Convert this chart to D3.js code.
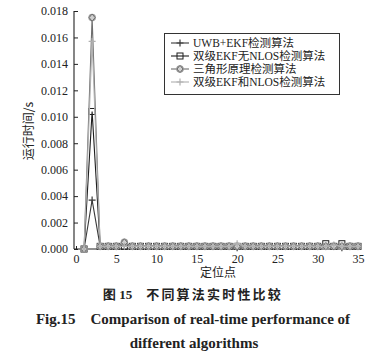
<!DOCTYPE html>
<html><head><meta charset="utf-8">
<script src="https://cdn.jsdelivr.net/npm/d3@7"></script>
<style>html,body{margin:0;padding:0;background:#fff;}svg{display:block;}</style>
</head><body>
<script>
const xPoints = d3.range(1, 36);
const seriesNames = ["UWB+EKF检测算法", "双级EKF无NLOS检测算法", "三角形原理检测算法", "双级EKF和NLOS检测算法"];
const s1 = [0, 0.0037, 0.0002, 0.0002, 0.0002, 0.0002, 0.0002, 0.0002, 0.0002, 0.0002, 0.0002, 0.0002, 0.0002, 0.0002, 0.0002, 0.0002, 0.0002, 0.0002, 0.0002, 0.0001, 0.0002, 0.0002, 0.0002, 0.0002, 0.0002, 0.0002, 0.0002, 0.0002, 0.0002, 0.0002, 0.0002, 0.0002, 0.0001, 0.0002, 0.0002];
const s2 = [0, 0.0104, 0.0002, 0.0002, 0.0002, 0.0002, 0.0002, 0.0002, 0.0002, 0.0002, 0.0002, 0.0002, 0.0002, 0.0002, 0.0002, 0.0002, 0.0002, 0.0002, 0.0002, 0.0002, 0.0002, 0.0002, 0.0002, 0.0002, 0.0002, 0.0002, 0.0002, 0.0002, 0.0002, 0.0002, 0.0004, 0.0002, 0.0004, 0.0002, 0.0002];
const s3 = [0, 0.0175, 0.0002, 0.0002, 0.0002, 0.0005, 0.0002, 0.0002, 0.0002, 0.0002, 0.0002, 0.0002, 0.0002, 0.0002, 0.0002, 0.0002, 0.0002, 0.0002, 0.0002, 0.0002, 0.0002, 0.0002, 0.0002, 0.0002, 0.0002, 0.0002, 0.0002, 0.0002, 0.0002, 0.0002, 0.0002, 0.0002, 0.0002, 0.0002, 0.0002];
const s4 = [0, 0.0157, 0.0002, 0.0002, 0.0002, 0.0002, 0.0002, 0.0002, 0.0002, 0.0002, 0.0002, 0.0002, 0.0002, 0.0002, 0.0002, 0.0002, 0.0002, 0.0002, 0.0002, 0.0004, 0.0002, 0.0002, 0.0002, 0.0002, 0.0002, 0.0002, 0.0002, 0.0002, 0.0002, 0.0002, 0.0002, 0.0003, 0.0002, 0.0002, 0.0002];
const xTicks = [0, 5, 10, 15, 20, 25, 30, 35];
const yTicks = [0, 0.002, 0.004, 0.006, 0.008, 0.010, 0.012, 0.014, 0.016, 0.018];

const W = 386, H = 357;
const svg = d3.select("body").append("svg").attr("width", W).attr("height", H);
svg.append("rect").attr("width", W).attr("height", H).attr("fill", "#fff");

const x = d3.scaleLinear().domain([0, 35]).range([76, 358]);
const y = d3.scaleLinear().domain([0, 0.018]).range([249, 11]);
const serif = "'Liberation Serif','Times New Roman',serif";
const cjk = "'Noto Sans CJK SC',sans-serif";

// axes
const axL = 74, axB = 249;
svg.append("line").attr("x1", axL).attr("x2", axL).attr("y1", y(0.018)).attr("y2", axB).attr("stroke", "#222").attr("stroke-width", 1.1);
svg.append("line").attr("x1", axL).attr("x2", 360).attr("y1", axB).attr("y2", axB).attr("stroke", "#222").attr("stroke-width", 1.1);

const gy = svg.append("g").attr("transform", `translate(${axL},0)`)
  .call(d3.axisRight(y).tickValues(yTicks).tickSize(4).tickFormat(d3.format(".3f")));
gy.select(".domain").remove();
gy.selectAll("line").attr("stroke", "#222");
gy.selectAll("text").attr("x", -6).attr("text-anchor", "end").attr("font-family", serif).attr("font-size", 12).attr("fill", "#222");

const gx = svg.append("g").attr("transform", `translate(0,${axB})`)
  .call(d3.axisTop(x).tickValues(xTicks).tickSize(3).tickFormat(d3.format("d")));
gx.select(".domain").remove();
gx.selectAll("line").attr("stroke", "#222");
gx.selectAll("text").attr("y", 14).attr("dy", 0).attr("font-family", serif).attr("font-size", 12).attr("fill", "#222");

// axis titles
svg.append("text").attr("transform", "translate(33,131) rotate(-90)").attr("text-anchor", "middle")
  .attr("font-family", cjk).attr("font-size", 12).attr("fill", "#222").text("运行时间/s");
svg.append("text").attr("x", 218).attr("y", 277).attr("text-anchor", "middle")
  .attr("font-family", cjk).attr("font-size", 12).attr("fill", "#222").text("定位点");

// series
const series = [
  {name: seriesNames[0], vals: s1, color: "#3a3a3a", marker: "plus"},
  {name: seriesNames[1], vals: s2, color: "#1e1e1e", marker: "square"},
  {name: seriesNames[2], vals: s3, color: "#6e6e6e", marker: "diamond"},
  {name: seriesNames[3], vals: s4, color: "#b0b0b0", marker: "plus"}
];
const line = d3.line().x((d, i) => x(xPoints[i])).y(d => y(d));

function drawMarker(g, type, cx, cy, color) {
  if (type === "plus") {
    g.append("path").attr("d", `M${cx-3.5},${cy}H${cx+3.5}M${cx},${cy-3.5}V${cy+3.5}`)
      .attr("stroke", color).attr("stroke-width", 1.2).attr("fill", "none");
  } else if (type === "square") {
    g.append("rect").attr("x", cx-3).attr("y", cy-3).attr("width", 6).attr("height", 6)
      .attr("fill", "none").attr("stroke", color).attr("stroke-width", 1);
  } else {
    g.append("circle").attr("cx", cx).attr("cy", cy).attr("r", 3.8).attr("fill", "#9a9a9a").attr("stroke", "none");
    g.append("path").attr("d", `M${cx},${cy-3.6}L${cx+3},${cy}L${cx},${cy+3.6}L${cx-3},${cy}Z`)
      .attr("fill", "#cfcfcf").attr("stroke", color).attr("stroke-width", 1);
  }
}

series.forEach(s => {
  const g = svg.append("g");
  g.append("path").datum(s.vals).attr("d", line).attr("fill", "none").attr("stroke", s.color).attr("stroke-width", 1.1);
  s.vals.forEach((v, i) => drawMarker(g, s.marker, x(xPoints[i]), y(v), s.color));
});

// legend
const lg = svg.append("g");
lg.append("rect").attr("x", 164.5).attr("y", 33.5).attr("width", 175).attr("height", 61)
  .attr("fill", "#fff").attr("stroke", "#333").attr("stroke-width", 1);
series.forEach((s, i) => {
  const ly = 43 + i * 13;
  lg.append("line").attr("x1", 171).attr("x2", 189).attr("y1", ly).attr("y2", ly).attr("stroke", s.color).attr("stroke-width", 1.1);
  drawMarker(lg, s.marker, 180, ly, s.color);
  lg.append("text").attr("x", 193).attr("y", ly + 4).attr("font-family", serif + "," + cjk).attr("font-size", 11.5)
    .attr("fill", "#222").text(s.name);
});

// caption
svg.append("text").attr("x", 193).attr("y", 299).attr("text-anchor", "middle")
  .attr("font-family", cjk).attr("font-weight", "bold").attr("font-size", 13).attr("fill", "#222")
  .html("<tspan font-family=\"'Liberation Serif',serif\">图 15</tspan><tspan dx='14' letter-spacing='2.2'>不同算法实时性比较</tspan>");
svg.append("text").attr("x", 193).attr("y", 324).attr("text-anchor", "middle")
  .attr("font-family", serif).attr("font-weight", "bold").attr("font-size", 15).attr("fill", "#222")
  .attr("xml:space", "preserve").text("Fig.15    Comparison of real-time performance of");
svg.append("text").attr("x", 194).attr("y", 348).attr("text-anchor", "middle")
  .attr("font-family", serif).attr("font-weight", "bold").attr("font-size", 15).attr("fill", "#222")
  .text("different algorithms");
</script>
</body></html>
